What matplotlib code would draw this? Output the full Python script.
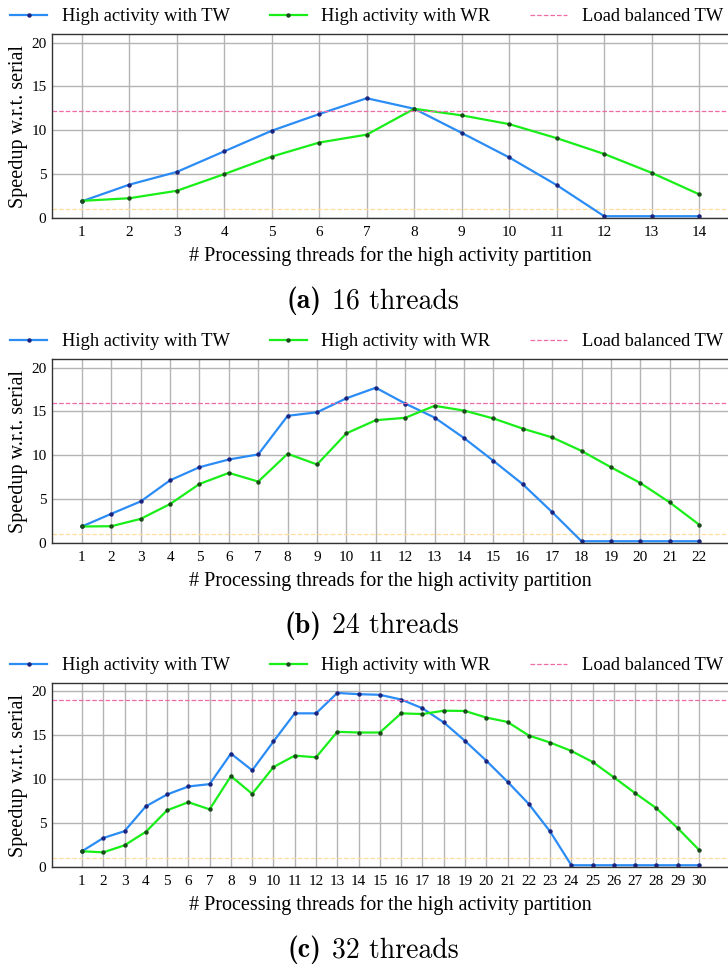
import matplotlib
matplotlib.use('Agg')
import matplotlib.pyplot as plt

# speedup data
tw_16 = [1.9, 3.8, 5.25, 7.6, 9.95, 11.85, 13.65, 12.45, 9.7, 6.9, 3.75, 0.2, 0.2, 0.2]
wr_16 = [1.95, 2.25, 3.1, 5.0, 7.0, 8.6, 9.5, 12.45, 11.7, 10.7, 9.1, 7.3, 5.15, 2.7]
lb_16 = 12.2

tw_24 = [1.88, 3.33, 4.74, 7.15, 8.64, 9.52, 10.1, 14.5, 14.9, 16.5, 17.7, 15.9,
         14.3, 11.97, 9.37, 6.7, 3.52, 0.2, 0.2, 0.2, 0.2, 0.2]
wr_24 = [1.88, 1.91, 2.75, 4.44, 6.73, 7.99, 7.0, 10.17, 8.95, 12.5, 14.0, 14.27,
         15.64, 15.1, 14.2, 13.04, 12.04, 10.5, 8.64, 6.84, 4.63, 2.1]
lb_24 = 16.0

tw_32 = [1.79, 3.3, 4.08, 6.9, 8.25, 9.16, 9.43, 12.9, 11.0, 14.28, 17.48, 17.48,
         19.8, 19.66, 19.59, 19.05, 18.06, 16.45, 14.35, 12.1, 9.7, 7.17, 4.04,
         0.2, 0.2, 0.2, 0.2, 0.2, 0.2, 0.2]
wr_32 = [1.79, 1.67, 2.47, 4.0, 6.45, 7.37, 6.56, 10.34, 8.32, 11.37, 12.67, 12.48,
         15.38, 15.3, 15.3, 17.48, 17.4, 17.78, 17.75, 17.0, 16.5, 14.96, 14.16,
         13.2, 11.95, 10.2, 8.4, 6.68, 4.42, 1.95]
lb_32 = 19.0

serial = 1.0
tags = ['(a)', '(b)', '(c)']
captions = ['16 threads', '24 threads', '32 threads']

plt.rcParams['font.family'] = ['Liberation Serif', 'DejaVu Serif']

fig = plt.figure(figsize=(7.28, 9.67), dpi=100)

panels = [(tw_16, wr_16, lb_16, (0.37, 14.63), 20.95, 0.7746),
          (tw_24, wr_24, lb_24, (-0.02, 23.02), 20.95, 0.4385),
          (tw_32, wr_32, lb_32, (-0.41, 31.41), 20.9, 0.1034)]

for k, (tw, wr, lb, xl, ytop, bottom) in enumerate(panels):
    ax = fig.add_axes([0.0714, bottom, 0.93, 0.19])
    x = list(range(1, len(tw) + 1))
    ax.set_axisbelow(True)
    ax.grid(True, color='#b4b4b4', lw=1.0)
    ax.axhline(serial, color='#ffdca0', ls='--', lw=0.9)
    ax.plot(x, tw, color='#2b8cf5', lw=1.6, marker='o', ms=2.2,
            mfc='#1a237e', mec='#1a237e', label='High activity with TW')
    ax.plot(x, wr, color='#19ee19', lw=1.6, marker='o', ms=2.2,
            mfc='#1a4a1a', mec='#1a4a1a', label='High activity with WR')
    ax.axhline(lb, color='#f06aa8', ls='--', lw=0.9, label='Load balanced TW')
    ax.set_xlim(*xl)
    ax.set_ylim(0, ytop)
    ax.set_xticks(x)
    ax.set_yticks([0, 5, 10, 15, 20])
    ax.tick_params(axis='x', length=0, labelsize=11, pad=6)
    ax.tick_params(axis='y', length=0, labelsize=11, pad=4)
    for s in ['top', 'left', 'bottom']:
        ax.spines[s].set_color('#333333')
        ax.spines[s].set_linewidth(1.0)
    ax.spines['right'].set_visible(False)
    ax.set_ylabel('Speedup w.r.t. serial', fontsize=14.5, labelpad=2)
    ax.set_xlabel('# Processing threads for the high activity partition', fontsize=14.5, labelpad=5)
    ax.legend(loc='lower left', bbox_to_anchor=(-0.075, 1.0, 1.08, 0.1), ncol=3,
              mode='expand', frameon=False, fontsize=13.3, handlelength=2.0,
              handletextpad=0.8, borderaxespad=0.1)
    fig.text(0.4410, bottom - 0.086, tags[k], ha='right', va='center',
             fontsize=20, family='cmb10')
    fig.text(0.4560, bottom - 0.086, captions[k], ha='left', va='center',
             fontsize=20, family='cmr10')

fig.savefig('out.png', dpi=100)
